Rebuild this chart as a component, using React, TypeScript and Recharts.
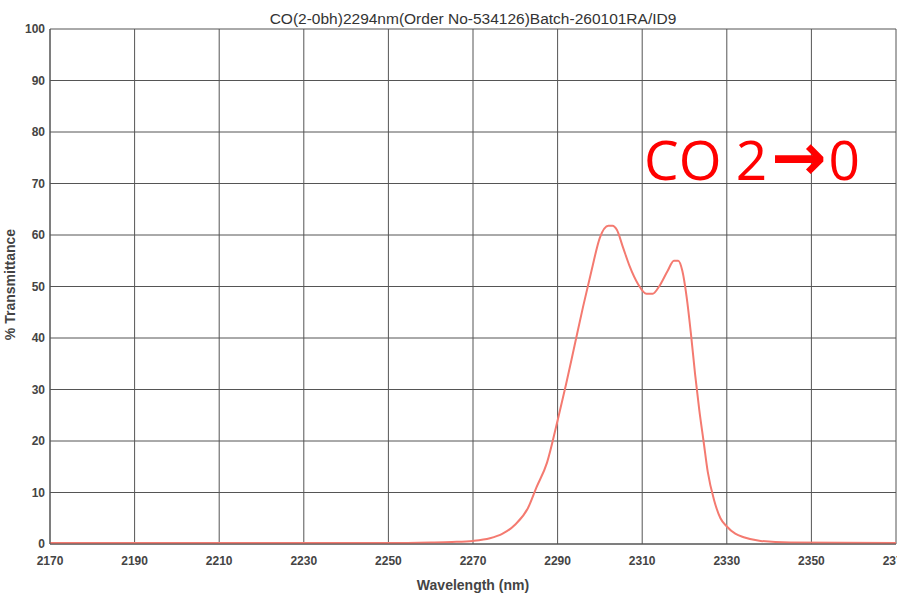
import React from 'react';
import { LineChart, Line, XAxis, YAxis, CartesianGrid, Label } from 'recharts';

// wavelength (nm) and % transmittance
const wavelength = [
  2170, 2200, 2230, 2250, 2260, 2265, 2270, 2274, 2277, 2280, 2283, 2285, 2287.5, 2290, 2292,
  2294, 2296, 2298, 2300, 2302, 2303, 2304, 2305.5, 2307, 2309, 2311, 2312.5, 2314, 2316,
  2317.5, 2318.5, 2319.5, 2320.5, 2321.5, 2322.5, 2323.5, 2324.5, 2325.5, 2327, 2328.5, 2330,
  2332, 2334, 2338, 2345, 2370,
];
const transmittance = [
  0.2, 0.2, 0.2, 0.2, 0.3, 0.4, 0.6, 1.1, 2.0, 3.8, 7.0, 11, 15.8, 24, 31,
  38.5, 46, 53, 59.5, 61.8, 61.8, 61, 57.5, 54, 50.5, 48.6, 48.6, 50, 53,
  55, 55, 53, 48, 41, 33, 26, 20, 14, 8.5, 5, 3.4,
  2.0, 1.3, 0.6, 0.3, 0.2,
];
const xTicks = [2170, 2190, 2210, 2230, 2250, 2270, 2290, 2310, 2330, 2350, 2370];
const yTicks = [0, 10, 20, 30, 40, 50, 60, 70, 80, 90, 100];

const data = wavelength.map((w, i) => ({ w, t: transmittance[i] }));

const FONT = 'Arial, "Liberation Sans", sans-serif';
const tickStyle = { fontSize: 12, fontWeight: 700, fill: '#444', fontFamily: FONT };
const titleStyle = { ...tickStyle, fontSize: 14 };

const YTitle = ({ viewBox }: any) => {
  const cy = viewBox.y + viewBox.height / 2 - 2;
  return (
    <text
      x={10}
      y={cy}
      transform={`rotate(-90, 10, ${cy})`}
      textAnchor="middle"
      dominantBaseline="central"
      style={titleStyle}
    >
      % Transmittance
    </text>
  );
};

export default function App() {
  return (
    <div
      style={{
        position: 'absolute',
        left: 0,
        top: 0,
        width: 897,
        height: 593,
        overflow: 'hidden',
        background: '#fff',
      }}
    >
      <div
        style={{
          position: 'absolute',
          left: 50,
          width: 846,
          top: 10,
          textAlign: 'center',
          fontFamily: FONT,
          fontSize: 15.5,
          color: '#333',
          lineHeight: '18px',
        }}
      >
        CO(2-0bh)2294nm(Order No-534126)Batch-260101RA/ID9
      </div>
      <LineChart
        width={930}
        height={593}
        data={data}
        margin={{ top: 29, right: 34, left: 0, bottom: 3 }}
      >
        <CartesianGrid stroke="#555" strokeWidth={1} />
        <XAxis
          dataKey="w"
          type="number"
          domain={[2170, 2370]}
          ticks={xTicks}
          height={46}
          tickSize={0}
          tickMargin={12}
          tick={tickStyle}
          axisLine={{ stroke: '#555' }}
          interval={0}
        >
          <Label
            value="Wavelength (nm)"
            position="insideBottom"
            offset={0}
            style={titleStyle}
          />
        </XAxis>
        <YAxis
          type="number"
          domain={[0, 100]}
          ticks={yTicks}
          width={50}
          tickSize={0}
          tickMargin={5}
          tick={tickStyle}
          axisLine={{ stroke: '#555' }}
          interval={0}
        >
          <Label content={<YTitle />} />
        </YAxis>
        <Line
          type="monotone"
          dataKey="t"
          stroke="#f47a70"
          strokeWidth={2}
          dot={false}
          isAnimationActive={false}
        />
      </LineChart>
      <div
        style={{
          position: 'absolute',
          left: 644,
          top: 126,
          fontFamily: '"Open Sans", "Noto Sans", sans-serif',
          fontSize: 55,
          lineHeight: '64px',
          color: '#ff0000',
          whiteSpace: 'nowrap',
        }}
      >
        CO 2
        <span
          style={{
            fontFamily: '"DejaVu Sans"',
            fontWeight: 700,
            fontSize: 66,
            marginLeft: 4,
            marginRight: 2,
          }}
        >
          →
        </span>
        0
      </div>
    </div>
  );
}
